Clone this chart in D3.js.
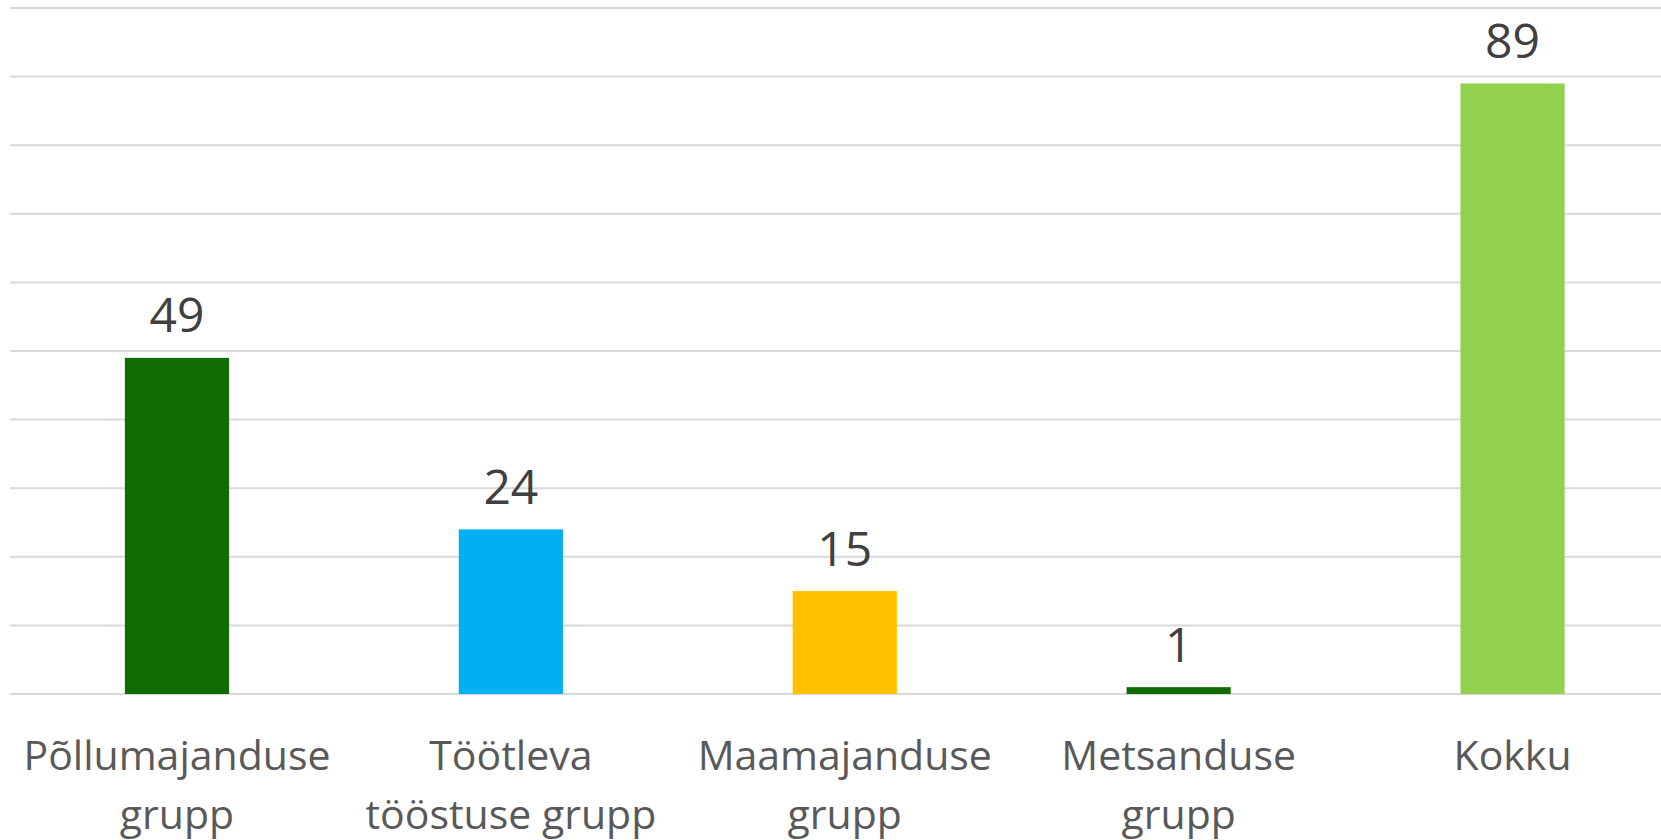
<!DOCTYPE html>
<html>
<head>
<meta charset="utf-8">
<script src="https://cdn.jsdelivr.net/npm/d3@7"></script>
<style>
  html, body { margin: 0; padding: 0; background: #fff; }
  svg { display: block; }
</style>
</head>
<body>
<svg id="chart" width="1661" height="840"></svg>
<script>
const categories = [
  ["Põllumajanduse", "grupp"],
  ["Töötleva", "tööstuse grupp"],
  ["Maamajanduse", "grupp"],
  ["Metsanduse", "grupp"],
  ["Kokku"]
];
const values = [49, 24, 15, 1, 89];
const colors = ["#106B00", "#00B0F0", "#FFC000", "#106B00", "#92D050"];
const yTicks = [0, 10, 20, 30, 40, 50, 60, 70, 80, 90, 100];

(function () {
  const W = 1661;
  const plotLeft = 10, bandStep = 333.9, plotTop = 8, plotBottom = 694;
  const svg = d3.select("#chart");

  const keys = categories.map(c => c.join(" "));
  const x = d3.scaleBand()
    .domain(keys)
    .range([plotLeft, plotLeft + bandStep * keys.length])
    .paddingInner(0.688)
    .paddingOuter(0.344);
  const y = d3.scaleLinear().domain([0, 100]).range([plotBottom, plotTop]);

  // gridlines
  svg.append("g")
    .attr("class", "grid")
    .selectAll("line")
    .data(yTicks)
    .join("line")
    .attr("x1", plotLeft).attr("x2", W)
    .attr("y1", d => y(d)).attr("y2", d => y(d))
    .attr("stroke", "#d9d9d9")
    .attr("stroke-width", 2);

  // bars
  svg.append("g").selectAll("rect")
    .data(values)
    .join("rect")
    .attr("x", (d, i) => x(keys[i]))
    .attr("width", x.bandwidth())
    .attr("y", d => y(d))
    .attr("height", d => y(0) - y(d))
    .attr("fill", (d, i) => colors[i]);

  // value labels
  svg.append("g").selectAll("text")
    .data(values)
    .join("text")
    .attr("x", (d, i) => x(keys[i]) + x.bandwidth() / 2)
    .attr("y", d => y(d) - 25.5)
    .attr("text-anchor", "middle")
    .attr("font-family", "'Open Sans', sans-serif")
    .attr("font-size", 48)
    .attr("fill", "#404040")
    .text(d => d);

  // category labels
  const cat = svg.append("g").selectAll("text")
    .data(categories)
    .join("text")
    .attr("text-anchor", "middle")
    .attr("font-family", "'Open Sans', sans-serif")
    .attr("font-size", 41)
    .attr("fill", "#595959")
    .attr("transform", (d, i) => `translate(${x(keys[i]) + x.bandwidth() / 2},770)`);
  cat.selectAll("tspan")
    .data(d => d)
    .join("tspan")
    .attr("x", 0)
    .attr("y", (d, j) => j * 59)
    .text(d => d);
})();
</script>
</body>
</html>
